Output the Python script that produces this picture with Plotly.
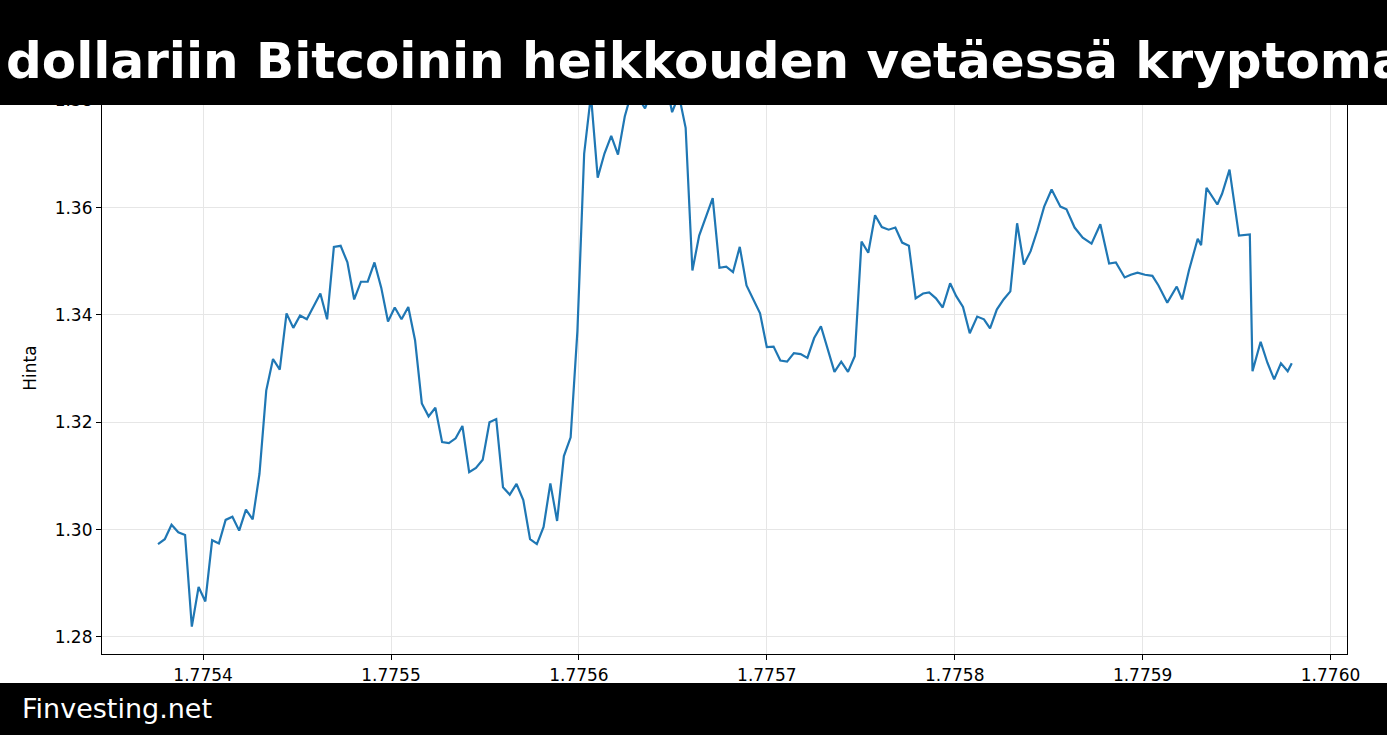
import numpy as np
import plotly.graph_objects as go

# ---------------- data ----------------
start_epoch = 1775376000  # seconds; axis shows seconds / 1e9

hours = list(range(112)) + [
    112.0, 113.1, 114.0, 115.0, 116.0, 117.1, 118.0, 119.0, 120.0, 121.1,
    122.1, 123.0, 124.0, 125.0, 126.0, 127.0, 128.0, 129.0, 130.0, 131.0,
    132.1, 133.4, 134.3, 135.5, 136.7, 138.0, 139.3, 140.6, 141.6, 142.9,
    143.8, 144.8, 145.9, 147.0, 147.9, 149.2, 150.6, 151.4, 152.4, 153.7,
    154.2, 155.0, 156.6, 157.3, 158.4, 159.8, 161.4, 161.8, 163.0, 164.0,
    165.0, 166.0, 167.0, 167.6,
]

prices = [
    1.2973, 1.2982, 1.3009, 1.2995, 1.2990, 1.2819, 1.2893, 1.2866, 1.2980, 1.2974,
    1.3018, 1.3024, 1.2998, 1.3037, 1.3019, 1.3104, 1.3259, 1.3318, 1.3298, 1.3403,
    1.3376, 1.3399, 1.3392, 1.3415, 1.3440, 1.3392, 1.3527, 1.3529, 1.3498, 1.3429,
    1.3462, 1.3462, 1.3498, 1.3451, 1.3388, 1.3414, 1.3392, 1.3415, 1.3353, 1.3235,
    1.3211, 1.3227, 1.3163, 1.3161, 1.3170, 1.3193, 1.3107, 1.3115, 1.3130, 1.3200,
    1.3206, 1.3079, 1.3065, 1.3085, 1.3055, 1.2982, 1.2973, 1.3005, 1.3086, 1.3016,
    1.3137, 1.3172, 1.3370, 1.3701, 1.3810, 1.3656, 1.3701, 1.3734, 1.3699, 1.3770,
    1.3815, 1.3805, 1.3785, 1.3820, 1.3830, 1.3840, 1.3778, 1.3810, 1.3749, 1.3483,
    1.3548, 1.3584, 1.3618, 1.3488, 1.3490, 1.3480, 1.3527, 1.3455, 1.3428, 1.3403,
    1.3340, 1.3341, 1.3315, 1.3313, 1.3329, 1.3327, 1.3320, 1.3357, 1.3379, 1.3337,
    1.3294, 1.3313, 1.3294, 1.3323, 1.3537, 1.3516, 1.3586, 1.3564, 1.3559, 1.3563,
    1.3535, 1.3529,
    1.3431, 1.3440, 1.3442, 1.3431, 1.3414, 1.3459, 1.3435, 1.3415, 1.3366, 1.3397,
    1.3392, 1.3375, 1.3410, 1.3429, 1.3444, 1.3571, 1.3494, 1.3519, 1.3558, 1.3602,
    1.3634, 1.3602, 1.3597, 1.3563, 1.3544, 1.3533, 1.3569, 1.3496, 1.3498, 1.3470,
    1.3475, 1.3479, 1.3475, 1.3473, 1.3455, 1.3423, 1.3453, 1.3429, 1.3483, 1.3542,
    1.3530, 1.3637, 1.3606, 1.3626, 1.3671, 1.3548, 1.3550, 1.3295, 1.3350, 1.3311,
    1.3280, 1.3310, 1.3295, 1.3310,
]

x_ticks = [1.7754, 1.7755, 1.7756, 1.7757, 1.7758, 1.7759, 1.7760]
y_ticks = [1.28, 1.30, 1.32, 1.34, 1.36, 1.38]

title_text = "dollariin Bitcoinin heikkouden vetäessä kryptomarkkinoita"
footer_text = "Finvesting.net"
y_label = "Hinta"

# ---------------- figure ----------------
W, H = 1400, 735
x_vals = (start_epoch + np.array(hours) * 3600) / 1e9

fig = go.Figure()
fig.add_trace(go.Scatter(
    x=x_vals, y=prices, mode="lines",
    line=dict(color="#1f77b4", width=2.2),
    hoverinfo="skip",
))

tick_font = dict(family="DejaVu Sans", size=17, color="black")

fig.update_layout(
    width=W, height=H, autosize=False,
    margin=dict(l=0, r=0, t=0, b=0),
    paper_bgcolor="white", plot_bgcolor="white",
    showlegend=False,
    xaxis=dict(
        domain=[103 / W, 1360 / W],
        range=[1.77534622, 1.77600896],
        tickvals=x_ticks, ticktext=[f"{v:.4f}" for v in x_ticks],
        ticks="outside", ticklen=5, tickwidth=1.2, tickcolor="black",
        showline=True, linecolor="black", linewidth=1.3, mirror=True,
        showgrid=True, gridcolor="#e6e6e6", gridwidth=1, zeroline=False,
        tickfont=tick_font,
    ),
    yaxis=dict(
        domain=[(H - 654) / H, (H - 51.5) / H],
        range=[1.2768, 1.38912],
        tickvals=y_ticks, ticktext=[f"{v:.2f}" for v in y_ticks],
        ticks="outside", ticklen=5, tickwidth=1.2, tickcolor="black",
        showline=True, linecolor="black", linewidth=1.3, mirror=True,
        showgrid=True, gridcolor="#e6e6e6", gridwidth=1, zeroline=False,
        tickfont=tick_font,
    ),
    shapes=[
        dict(type="rect", xref="paper", yref="paper", x0=0, x1=1,
             y0=(H - 105) / H, y1=1, fillcolor="black", line=dict(width=0),
             layer="above"),
        dict(type="rect", xref="paper", yref="paper", x0=0, x1=1,
             y0=0, y1=(H - 683) / H, fillcolor="black", line=dict(width=0),
             layer="above"),
    ],
    annotations=[
        dict(text=title_text, xref="paper", yref="paper",
             x=4 / W, y=(H - 61) / H, xanchor="left", yanchor="middle",
             showarrow=False,
             font=dict(family="DejaVu Sans", size=50, color="white", weight="bold")),
        dict(text=footer_text, xref="paper", yref="paper",
             x=20 / W, y=(H - 708) / H, xanchor="left", yanchor="middle",
             showarrow=False,
             font=dict(family="DejaVu Sans", size=27, color="white")),
        dict(text=y_label, xref="paper", yref="paper",
             x=30 / W, y=(H - 368) / H, xanchor="center", yanchor="middle",
             textangle=-90, showarrow=False,
             font=dict(family="DejaVu Sans", size=17, color="black")),
    ],
)

fig.write_html(
    "out.html",
    config={"responsive": False, "displayModeBar": False},
    post_script=(
        "document.documentElement.style.overflow='hidden';"
        "document.documentElement.style.margin='0';"
        "document.body.style.margin='0';"
        "document.body.style.padding='0';"
        "document.body.style.overflow='hidden';"
    ),
)
